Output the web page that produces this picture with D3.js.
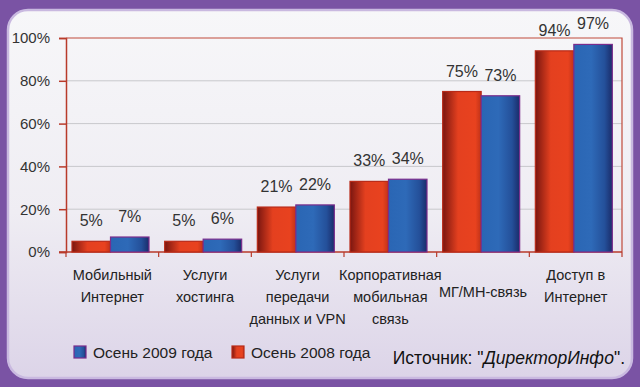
<!DOCTYPE html>
<html>
<head>
<meta charset="utf-8">
<script src="https://cdn.jsdelivr.net/npm/d3@7"></script>
<style>
  html, body { margin: 0; padding: 0; background: #7a53a4; }
  svg { display: block; font-family: "Liberation Sans", Arial, sans-serif; }
</style>
</head>
<body>
<div id="viz"></div>
<script>
var w = 640, h = 387;

// data
var categories = ["Мобильный|Интернет", "Услуги|хостинга", "Услуги|передачи|данных и VPN",
                  "Корпоративная|мобильная|связь", "МГ/МН-связь", "Доступ в|Интернет"];
var autumn2008 = [5, 5, 21, 33, 75, 94];
var autumn2009 = [7, 6, 22, 34, 73, 97];
var yTicks = [0, 20, 40, 60, 80, 100];
var seriesNames = ["Осень 2008 года", "Осень 2009 года"];
var legendOrder = ["Осень 2009 года", "Осень 2008 года"];
var sourceText = ["Источник: \"", "ДиректорИнфо", "\"."];

var plot = {left: 66, right: 622, top: 38, bottom: 252};

var svg = d3.select("#viz").append("svg")
  .attr("width", w)
  .attr("height", h);

var defs = svg.append("defs");

var panelGrad = defs.append("linearGradient").attr("id", "panel")
  .attr("x1", 0).attr("y1", 0).attr("x2", 0).attr("y2", 1);
panelGrad.append("stop").attr("offset", "0%").attr("stop-color", "#f7f7f9");
panelGrad.append("stop").attr("offset", "55%").attr("stop-color", "#efedf3");
panelGrad.append("stop").attr("offset", "100%").attr("stop-color", "#dcd4e8");

var redGrad = defs.append("linearGradient").attr("id", "redbar")
  .attr("x1", 0).attr("y1", 0).attr("x2", 1).attr("y2", 0);
redGrad.append("stop").attr("offset", "0%").attr("stop-color", "#7a1610");
redGrad.append("stop").attr("offset", "40%").attr("stop-color", "#e4401f");
redGrad.append("stop").attr("offset", "85%").attr("stop-color", "#e8421f");
redGrad.append("stop").attr("offset", "100%").attr("stop-color", "#c03218");

var blueGrad = defs.append("linearGradient").attr("id", "bluebar")
  .attr("x1", 0).attr("y1", 0).attr("x2", 1).attr("y2", 0);
blueGrad.append("stop").attr("offset", "0%").attr("stop-color", "#2a66b4");
blueGrad.append("stop").attr("offset", "45%").attr("stop-color", "#2e6ab8");
blueGrad.append("stop").attr("offset", "80%").attr("stop-color", "#24509a");
blueGrad.append("stop").attr("offset", "100%").attr("stop-color", "#1a2c6a");

var fills = {"Осень 2008 года": "url(#redbar)", "Осень 2009 года": "url(#bluebar)"};
var strokes = {"Осень 2008 года": "#b82a18", "Осень 2009 года": "#7a2c8c"};

// panel
svg.append("rect")
  .attr("x", 8).attr("y", 10)
  .attr("width", 624).attr("height", 368)
  .attr("rx", 20).attr("ry", 20)
  .attr("fill", "url(#panel)")
  .attr("stroke", "#c9b9e0")
  .attr("stroke-width", 2.5);

var y = d3.scaleLinear().domain([0, 100]).range([plot.bottom, plot.top]);
var x0 = d3.scaleBand().domain(categories).range([plot.left, plot.right]);
var x1 = d3.scaleBand().domain(seriesNames).range([6, 83]);

// gridlines
svg.append("g").selectAll("line")
  .data(yTicks.filter(function(t) { return t > 0 && t < 100; }))
  .enter().append("line")
  .attr("x1", plot.left).attr("x2", plot.right)
  .attr("y1", function(d) { return y(d); })
  .attr("y2", function(d) { return y(d); })
  .attr("stroke", "#c8c8cc").attr("stroke-width", 1);

// y axis
var yAxis = d3.axisLeft(y).tickValues(yTicks)
  .tickFormat(function(d) { return d + "%"; })
  .tickSize(7).tickPadding(9);
var ya = svg.append("g").attr("transform", "translate(" + plot.left + ",0)").call(yAxis);
ya.attr("font-family", null).attr("font-size", null);
ya.select(".domain").attr("stroke", "#b83a2a").attr("stroke-width", 1.5);
ya.selectAll(".tick line").attr("stroke", "#b83a2a").attr("stroke-width", 1.5);
ya.selectAll(".tick text").attr("fill", "#333").attr("font-size", "15px");

// top and right frame
svg.append("path")
  .attr("d", "M" + plot.left + "," + y(100) + "H" + plot.right + "V" + plot.bottom)
  .attr("fill", "none").attr("stroke", "#c04a3a").attr("stroke-width", 1.2);

// x axis
var xa = svg.append("g").attr("transform", "translate(0," + plot.bottom + ")");
xa.append("line").attr("x1", plot.left - 7).attr("x2", plot.right)
  .attr("stroke", "#b83a2a").attr("stroke-width", 1.5);
var bounds = categories.map(function(c) { return x0(c); }).concat([plot.right]);
xa.selectAll("line.tk").data(bounds).enter().append("line")
  .attr("class", "tk")
  .attr("x1", function(d) { return d; }).attr("x2", function(d) { return d; })
  .attr("y1", 0).attr("y2", 5)
  .attr("stroke", "#b83a2a").attr("stroke-width", 1.2);

// category labels
var catLabels = svg.append("g").selectAll("text")
  .data(categories)
  .enter().append("text")
  .attr("text-anchor", "middle")
  .attr("font-size", "14.5px")
  .attr("fill", "#222")
  .attr("transform", function(d) {
    var n = d.split("|").length;
    return "translate(" + (x0(d) + x0.bandwidth() / 2) + "," + (n == 1 ? 297 : 280) + ")";
  });
catLabels.selectAll("tspan")
  .data(function(d) { return d.split("|"); })
  .enter().append("tspan")
  .attr("x", 0)
  .attr("dy", function(d, i) { return i == 0 ? 0 : 22; })
  .text(function(d) { return d; });

// bars
var rows = categories.map(function(c, i) {
  return {cat: c, values: [
    {name: seriesNames[0], value: autumn2008[i]},
    {name: seriesNames[1], value: autumn2009[i]}
  ]};
});

var groups = svg.append("g").selectAll("g")
  .data(rows)
  .enter().append("g")
  .attr("transform", function(d) { return "translate(" + x0(d.cat) + ",0)"; });

groups.selectAll("rect")
  .data(function(d) { return d.values; })
  .enter().append("rect")
  .attr("x", function(d) { return x1(d.name); })
  .attr("y", function(d) { return y(d.value); })
  .attr("width", x1.bandwidth())
  .attr("height", function(d) { return plot.bottom - y(d.value); })
  .attr("fill", function(d) { return fills[d.name]; })
  .attr("stroke", function(d) { return strokes[d.name]; })
  .attr("stroke-width", 1.2);

groups.selectAll("text")
  .data(function(d) { return d.values; })
  .enter().append("text")
  .attr("x", function(d) { return x1(d.name) + x1.bandwidth() / 2; })
  .attr("y", function(d) { return y(d.value) - 15; })
  .attr("text-anchor", "middle")
  .attr("font-size", "16px")
  .attr("fill", "#333")
  .text(function(d) { return d.value + "%"; });

// legend
var legendX = {"Осень 2009 года": 74, "Осень 2008 года": 232};
var lg = svg.append("g").selectAll("g")
  .data(legendOrder)
  .enter().append("g")
  .attr("transform", function(d) { return "translate(" + legendX[d] + ",346)"; });
lg.append("rect")
  .attr("width", 12).attr("height", 12)
  .attr("fill", function(d) { return fills[d]; })
  .attr("stroke", function(d) { return strokes[d]; })
  .attr("stroke-width", 1.2);
lg.append("text")
  .attr("x", 19).attr("y", 12)
  .attr("font-size", "15.5px")
  .attr("fill", "#222")
  .text(function(d) { return d; });

// source
var src = svg.append("text")
  .attr("x", 625).attr("y", 364)
  .attr("text-anchor", "end")
  .attr("font-size", "17.5px")
  .attr("fill", "#111");
src.selectAll("tspan")
  .data(sourceText)
  .enter().append("tspan")
  .attr("font-style", function(d, i) { return i == 1 ? "italic" : "normal"; })
  .text(function(d) { return d; });
</script>
</body>
</html>
